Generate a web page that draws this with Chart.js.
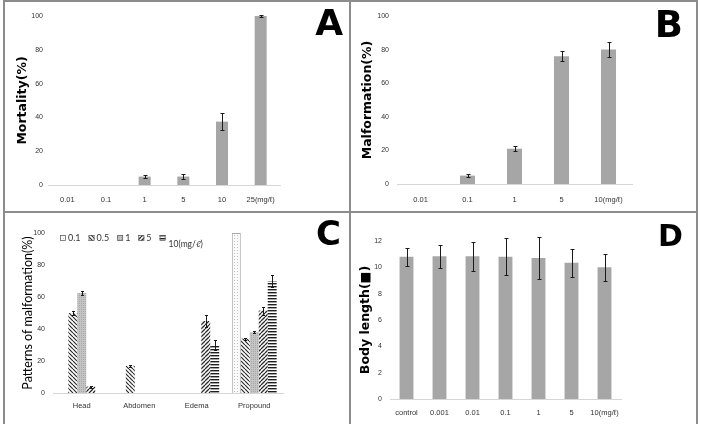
<!DOCTYPE html>
<html><head><meta charset="utf-8">
<script src="https://cdn.jsdelivr.net/npm/chart.js@4.4.1/dist/chart.umd.min.js"></script>
<style>
html,body{margin:0;padding:0;background:#fff;width:701px;height:424px;overflow:hidden;position:relative;}
.fr{position:absolute;background:#8c8c8c;}
canvas{position:absolute;}
</style></head><body>
<div class="fr" style="left:3px;top:0px;width:695px;height:2px"></div>
<div class="fr" style="left:3px;top:0px;width:2px;height:424px"></div>
<div class="fr" style="left:696px;top:0px;width:2px;height:424px"></div>
<div class="fr" style="left:349px;top:0px;width:2px;height:424px"></div>
<div class="fr" style="left:3px;top:211px;width:695px;height:2px"></div>
<canvas id="cA" width="344" height="209" style="left:5px;top:2px"></canvas>
<canvas id="cB" width="345" height="209" style="left:351px;top:2px"></canvas>
<canvas id="cC" width="344" height="211" style="left:5px;top:213px"></canvas>
<canvas id="cD" width="345" height="211" style="left:351px;top:213px"></canvas>
<script>
// ---- data ----
const catsA = ['0.01','0.1','1','5','10','25(mg/ℓ)'];
const mortality = [0,0,5,5,37.5,100];
const mortalityErr = [0,0,0.8,1.5,5,0.3];

const catsB = ['0.01','0.1','1','5','10(mg/ℓ)'];
const malformation = [0,5,21,76,80];
const malformationErr = [0,1,1.5,3,4.5];

const catsC = ['Head','Abdomen','Edema','Propound'];
const legendC = ['0.1','0.5','1','5','10(mg/ℓ)'];
const patt01 = [0,0,0,100];
const patt01Err = [0,0,0,0];
const patt05 = [50,17,0,34];
const patt05Err = [1,0.5,0,0.6];
const patt1 = [62.5,0,0,38];
const patt1Err = [1.5,0,0,0.5];
const patt5 = [4,0,45,51.5];
const patt5Err = [0.6,0,4,2.5];
const patt10 = [0,0,30,70];
const patt10Err = [0,0,3,3.5];

const catsD = ['control','0.001','0.01','0.1','1','5','10(mg/ℓ)'];
const bodyLength = [10.8,10.85,10.85,10.8,10.7,10.35,10.0];
const bodyLengthErr = [0.7,0.87,1.1,1.4,1.6,1.05,1.0];

// ---- plugins ----
const errPlugin = {
  id:'errbars',
  afterDatasetsDraw(chart, args, opts){
    const ctx = chart.ctx, y = chart.scales.y;
    (opts.errors||[]).forEach((errs, di) => {
      const meta = chart.getDatasetMeta(di);
      const data = chart.data.datasets[di].data;
      meta.data.forEach((el, i) => {
        const e = errs[i]; if (!e) return;
        const v = data[i];
        const yt = Math.round(y.getPixelForValue(v+e))+0.5, yb = Math.round(y.getPixelForValue(v-e))+0.5;
        const x = Math.round(el.x)+0.5;
        const cw = opts.cap || 2;
        ctx.save(); ctx.strokeStyle = '#1a1a1a'; ctx.lineWidth = 1;
        ctx.beginPath();
        ctx.moveTo(x, yt); ctx.lineTo(x, yb);
        ctx.moveTo(x-cw, yt); ctx.lineTo(x+cw, yt);
        ctx.moveTo(x-cw, yb); ctx.lineTo(x+cw, yb);
        ctx.stroke(); ctx.restore();
      });
    });
  }
};
const letterPlugin = {
  id:'letter',
  afterDraw(chart, args, opts){
    if (!opts.text) return;
    const ctx = chart.ctx;
    ctx.save();
    ctx.font = 'bold ' + (opts.size||36) + 'px "DejaVu Sans"';
    ctx.fillStyle = '#000'; ctx.textAlign = 'right'; ctx.textBaseline = 'alphabetic';
    ctx.fillText(opts.text, opts.x, opts.y);
    ctx.restore();
  }
};
const legendPlugin = {
  id:'patLegend',
  afterDraw(chart, args, opts){
    if (!opts.show) return;
    const ctx = chart.ctx;
    let x = opts.x;
    ctx.save();
    ctx.font = '9px Lato';
    chart.data.datasets.forEach((ds, i) => {
      const y = opts.y;
      ctx.fillStyle = ds.backgroundColor;
      ctx.fillRect(x, y-3, 6, 6);
      ctx.strokeStyle = '#666'; ctx.lineWidth = 0.8;
      ctx.strokeRect(x+0.5, y-2.5, 5, 5);
      x += 8;
      ctx.fillStyle = '#333'; ctx.textBaseline = 'middle'; ctx.textAlign = 'left';
      const last = (i === chart.data.datasets.length-1);
      if (last) { ctx.font = '8.5px Lato'; x += 1; }
      ctx.fillText(ds.label, x, last ? y + 6 : y);
      x += ctx.measureText(ds.label).width + 8;
    });
    ctx.restore();
  }
};
Chart.register(errPlugin, letterPlugin, legendPlugin);

// ---- patterns ----
function tile(w, h, draw){
  const c = document.createElement('canvas'); c.width = w; c.height = h;
  const g = c.getContext('2d'); draw(g, w, h);
  return document.createElement('canvas').getContext('2d').createPattern(c, 'repeat');
}
const pat01 = tile(3,3,(g)=>{g.fillStyle='#fafafa';g.fillRect(0,0,3,3);g.fillStyle='#c0c0c0';g.fillRect(1,1,1,1);});
const pat05 = tile(4,4,(g,w,h)=>{g.fillStyle='#fff';g.fillRect(0,0,w,h);g.strokeStyle='#2a2a2a';g.lineWidth=1.2;
  g.beginPath();for(const x0 of [-w,0,w]){g.moveTo(x0,0);g.lineTo(x0+w,h);}g.stroke();});
const pat1 = tile(2,2,(g)=>{g.fillStyle='#c4c4c4';g.fillRect(0,0,2,2);g.fillStyle='#a8a8a8';g.fillRect(0,0,1,1);});
const pat5 = tile(4,4,(g,w,h)=>{g.fillStyle='#fff';g.fillRect(0,0,w,h);g.strokeStyle='#2a2a2a';g.lineWidth=1.3;
  g.beginPath();for(const x0 of [-w,0,w]){g.moveTo(x0,h);g.lineTo(x0+w,0);}g.stroke();});
const pat10 = tile(4,3,(g)=>{g.fillStyle='#fff';g.fillRect(0,0,4,3);g.fillStyle='#1e1e1e';g.fillRect(0,1,4,1.4);});

const BAR = '#a6a6a6';
const tickX = {family:'"Liberation Sans"', size:7.5};
const tickY = {family:'"Liberation Sans"', size:7};
const TC = '#333';

function baseOpts(o){
  return {
    responsive:false, animation:false, devicePixelRatio:1,
    layout:{padding:o.pad},
    plugins:{
      legend:{display:false}, tooltip:{enabled:false},
      errbars:{errors:o.errors, cap:o.cap||2},
      letter:o.letter,
      patLegend:o.legend || {show:false}
    },
    scales:{
      x:{
        grid:{display:false, drawTicks:false},
        border:{display:true, color:'#d6d6d6', width:1},
        ticks:{font:tickX, color:TC, padding:o.xpad, maxRotation:0, autoSkip:false},
        afterFit(s){ s.height = o.xh; }
      },
      y:{
        min:0, max:o.ymax,
        grid:{display:false, drawTicks:false},
        border:{display:false},
        ticks:{font:tickY, color:TC, stepSize:o.step, padding:o.ypad},
        title:{display:true, text:o.ytitle, color:'#000', padding:0, font:o.tfont},
        afterFit(s){ s.width = o.yw; }
      }
    }
  };
}

new Chart(document.getElementById('cA'), {
  type:'bar',
  data:{labels:catsA, datasets:[{data:mortality, backgroundColor:BAR, barPercentage:0.31, categoryPercentage:1}]},
  options: baseOpts({pad:{left:10,right:69,top:14,bottom:0}, errors:[mortalityErr], letter:{text:'A',x:338,y:33,size:36},
    xpad:10, xh:26, ymax:100, step:20, ypad:5, yw:33, ytitle:'Mortality(%)', tfont:{family:'"DejaVu Sans"', size:12.5, weight:'bold'}})
});

new Chart(document.getElementById('cB'), {
  type:'bar',
  data:{labels:catsB, datasets:[{data:malformation, backgroundColor:BAR, barPercentage:0.32, categoryPercentage:1}]},
  options: baseOpts({pad:{left:9,right:64,top:14,bottom:0}, errors:[malformationErr], letter:{text:'B',x:332,y:35,size:37},
    xpad:11, xh:27, ymax:100, step:20, ypad:8, yw:37, ytitle:'Malformation(%)', tfont:{family:'"DejaVu Sans"', size:12.5, weight:'bold'}})
});

const cDS = [
  {label:legendC[0], data:patt01, backgroundColor:pat01, borderColor:'#a8a8a8', borderWidth:1},
  {label:legendC[1], data:patt05, backgroundColor:pat05, borderWidth:0},
  {label:legendC[2], data:patt1, backgroundColor:pat1, borderWidth:0},
  {label:legendC[3], data:patt5, backgroundColor:pat5, borderWidth:0},
  {label:legendC[4], data:patt10, backgroundColor:pat10, borderWidth:0}
].map(d => Object.assign(d, {barPercentage:1, categoryPercentage:0.78}));

new Chart(document.getElementById('cC'), {
  type:'bar',
  data:{labels:catsC, datasets:cDS},
  options: baseOpts({pad:{left:15,right:66,top:20,bottom:0}, errors:[patt01Err,patt05Err,patt1Err,patt5Err,patt10Err], cap:1.5,
    letter:{text:'C',x:336,y:32,size:34}, legend:{show:true, x:55, y:25},
    xpad:8, xh:31, ymax:100, step:20, ypad:8, yw:33, ytitle:'Patterns of malformation(%)', tfont:{family:'Lato', size:12.5}})
});

new Chart(document.getElementById('cD'), {
  type:'bar',
  data:{labels:catsD, datasets:[{data:bodyLength, backgroundColor:BAR, barPercentage:0.42, categoryPercentage:1}]},
  options: baseOpts({pad:{left:7,right:75,top:28,bottom:0}, errors:[bodyLengthErr], letter:{text:'D',x:332,y:33,size:30},
    xpad:9, xh:25, ymax:12, step:2, ypad:8, yw:32, ytitle:'Body length(■)', tfont:{family:'"DejaVu Sans"', size:12.5, weight:'bold'}})
});
</script>
</body></html>
